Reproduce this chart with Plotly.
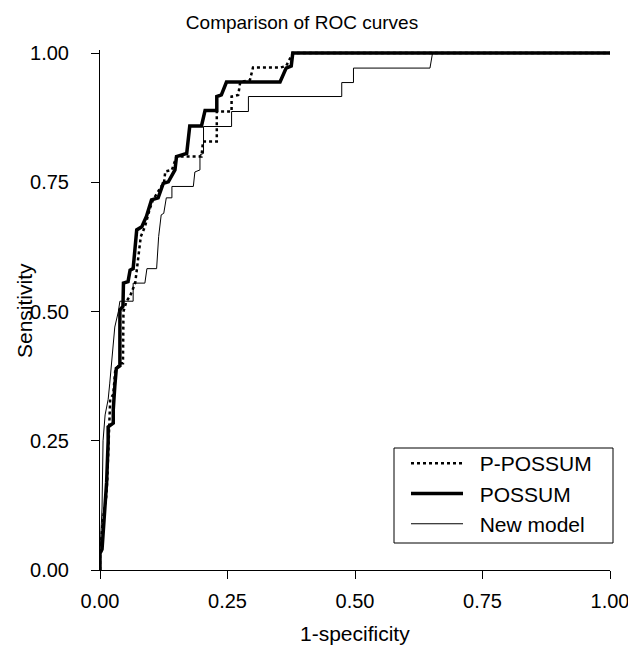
import plotly.graph_objects as go

# P-POSSUM (dotted)
ppossum_fpr = [0.000, 0.000, 0.006, 0.012, 0.014, 0.016, 0.018, 0.020, 0.026, 0.030, 0.040, 0.045, 0.046,
               0.052, 0.059, 0.069, 0.080, 0.088, 0.098, 0.104, 0.120, 0.125, 0.128, 0.141, 0.150, 0.199,
               0.202, 0.229, 0.229, 0.258, 0.258, 0.271, 0.275, 0.294, 0.300, 0.353, 0.365, 0.378, 1.000]
ppossum_tpr = [0.000, 0.030, 0.100, 0.140, 0.170, 0.250, 0.277, 0.330, 0.340, 0.387, 0.400, 0.400, 0.500,
               0.520, 0.530, 0.555, 0.645, 0.664, 0.700, 0.716, 0.742, 0.745, 0.771, 0.774, 0.800, 0.800,
               0.829, 0.829, 0.887, 0.887, 0.916, 0.919, 0.944, 0.948, 0.972, 0.972, 0.975, 1.000, 1.000]

# POSSUM (thick solid)
possum_fpr = [0.000, 0.000, 0.004, 0.010, 0.013, 0.016, 0.016, 0.026, 0.026, 0.029, 0.032, 0.039, 0.039,
              0.039, 0.045, 0.046, 0.055, 0.059, 0.065, 0.072, 0.082, 0.091, 0.101, 0.114, 0.124, 0.134,
              0.147, 0.150, 0.170, 0.176, 0.199, 0.206, 0.229, 0.229, 0.238, 0.248, 0.353, 0.365, 0.375,
              0.378, 1.000]
possum_tpr = [0.000, 0.032, 0.040, 0.120, 0.170, 0.250, 0.277, 0.284, 0.310, 0.355, 0.390, 0.395, 0.460,
              0.503, 0.510, 0.555, 0.558, 0.580, 0.583, 0.658, 0.664, 0.684, 0.716, 0.720, 0.748, 0.751,
              0.774, 0.800, 0.806, 0.859, 0.859, 0.889, 0.889, 0.916, 0.919, 0.944, 0.944, 0.971, 0.975,
              1.000, 1.000]

# New model (thin solid)
new_fpr = [0.000, 0.000, 0.004, 0.006, 0.010, 0.016, 0.019, 0.023, 0.026, 0.029, 0.036, 0.039, 0.065,
           0.065, 0.088, 0.092, 0.111, 0.114, 0.115, 0.120, 0.125, 0.130, 0.141, 0.141, 0.183, 0.186,
           0.196, 0.196, 0.203, 0.203, 0.258, 0.258, 0.291, 0.291, 0.474, 0.474, 0.497, 0.497, 0.647,
           0.652, 1.000]
new_tpr = [0.000, 0.030, 0.120, 0.250, 0.300, 0.330, 0.360, 0.410, 0.445, 0.470, 0.500, 0.520, 0.520,
           0.555, 0.555, 0.583, 0.583, 0.625, 0.645, 0.687, 0.690, 0.720, 0.720, 0.742, 0.742, 0.770,
           0.774, 0.803, 0.806, 0.858, 0.858, 0.887, 0.887, 0.916, 0.916, 0.943, 0.943, 0.971, 0.971,
           1.000, 1.000]

series_names = ["P-POSSUM", "POSSUM", "New model"]
tick_vals = [0, 0.25, 0.5, 0.75, 1.0]
tick_text = ["0.00", "0.25", "0.50", "0.75", "1.00"]

FONT = "Liberation Sans, Arial, Helvetica, sans-serif"
NB = "\u00a0\u00a0"

# the page body has an 8px default margin, so the figure is shifted by 8px
OFF = 8
W, H = 636 - OFF, 645 - OFF

# target plot area in page pixels
PL, PR, PT, PB = 100, 610, 50, 570
PW, PH = PR - PL, PB - PT

def px_x(p):  # page px -> paper x
    return (p - PL) / PW

def px_y(p):  # page px -> paper y
    return (PB - p) / PH

fig = go.Figure()
fig.add_trace(go.Scatter(x=ppossum_fpr, y=ppossum_tpr, mode="lines", name=NB + series_names[0],
                         line=dict(color="black", width=2.5, dash="dot")))
fig.add_trace(go.Scatter(x=possum_fpr, y=possum_tpr, mode="lines", name=NB + series_names[1],
                         line=dict(color="black", width=3.5)))
fig.add_trace(go.Scatter(x=new_fpr, y=new_tpr, mode="lines", name=NB + series_names[2],
                         line=dict(color="black", width=1)))

# legend frame
fig.add_shape(type="rect", xref="paper", yref="paper", x0=px_x(394), x1=px_x(613), y0=px_y(543), y1=px_y(448),
              line=dict(color="black", width=1), fillcolor="rgba(0,0,0,0)", layer="above")

# axis titles
fig.add_annotation(text="Sensitivity", xref="paper", yref="paper", x=px_x(24), y=px_y(311),
                   textangle=-90, showarrow=False, xanchor="center", yanchor="middle",
                   font=dict(family=FONT, size=21, color="black"))
fig.add_annotation(text="1-specificity", xref="paper", yref="paper", x=0.5, y=px_y(633),
                   showarrow=False, xanchor="center", yanchor="middle",
                   font=dict(family=FONT, size=21, color="black"))

fig.update_layout(
    width=W, height=H,
    margin=dict(l=PL - OFF, r=636 - PR, t=PT - OFF, b=645 - PB),
    paper_bgcolor="white", plot_bgcolor="white",
    font=dict(family=FONT, size=20, color="black"),
    title=dict(text="Comparison of ROC curves", x=(302 - OFF) / W, xref="container", xanchor="center",
               y=1 - (22 - OFF) / H, yref="container", yanchor="middle",
               font=dict(family=FONT, size=19, color="black")),
    showlegend=True,
    legend=dict(x=px_x(406), xanchor="left", y=px_y(443), yanchor="top",
                borderwidth=0, bgcolor="rgba(0,0,0,0)",
                font=dict(family=FONT, size=21, color="black"),
                itemwidth=52, tracegroupgap=0),
    xaxis=dict(range=[0, 1.0], tickvals=tick_vals, ticktext=tick_text, automargin=False,
               showline=True, linecolor="black", linewidth=1, ticks="outside", ticklen=8,
               tickcolor="black", showgrid=False, zeroline=False, ticklabelstandoff=5,
               tickfont=dict(size=20)),
    yaxis=dict(range=[0, 1.006], tickvals=tick_vals, ticktext=tick_text,
               showline=True, linecolor="black", linewidth=1, ticks="outside", ticklen=8,
               tickcolor="black", showgrid=False, zeroline=False, ticklabelstandoff=18,
               tickfont=dict(size=20)),
)

fig.write_html("out.html")
